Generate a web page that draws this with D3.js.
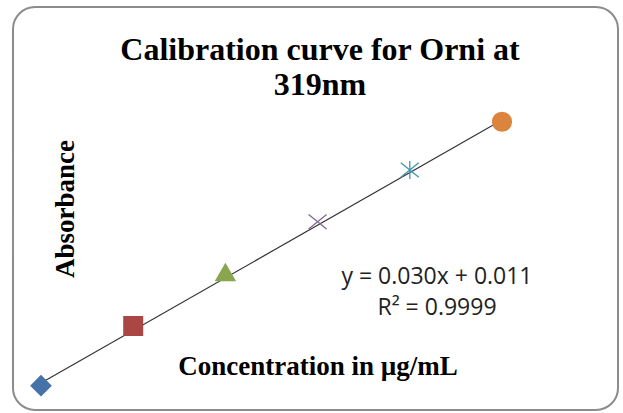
<!DOCTYPE html>
<html>
<head>
<meta charset="utf-8">
<script src="https://cdn.jsdelivr.net/npm/d3@7"></script>
<style>
  body { margin: 0; background: #fff; }
  svg { display: block; }
</style>
</head>
<body>
<div id="chart"></div>
<script>
// data
const concentrations = [2, 4, 6, 8, 10, 12];
const absorbance = [0.068, 0.136, 0.194, 0.255, 0.314, 0.369];
const markers = ['diamond', 'square', 'triangle', 'cross', 'star', 'circle'];
const colors = ['#4572A7', '#AA4643', '#89A54E', '#80699B', '#3D96AE', '#DB843D'];
const slope = 0.030, intercept = 0.011;

const width = 623, height = 413;

const svg = d3.select('#chart')
    .append('svg')
        .attr('width', width)
        .attr('height', height);

// outer frame
svg.append('rect')
    .attr('x', 13).attr('y', 7)
    .attr('width', 605).attr('height', 403)
    .attr('rx', 22).attr('ry', 22)
    .attr('fill', '#fff')
    .attr('stroke', '#8c8c8c')
    .attr('stroke-width', 2);

const x = d3.scaleLinear().domain([2, 12]).range([41, 502]);
const y = d3.scaleLinear().domain([0.071, 0.371]).range([383, 120]);

// trendline
const xs = d3.extent(concentrations);
svg.append('line')
    .attr('x1', x(xs[0])).attr('y1', y(slope * xs[0] + intercept))
    .attr('x2', x(xs[1])).attr('y2', y(slope * xs[1] + intercept))
    .attr('stroke', '#333')
    .attr('stroke-width', 1.2);

const points = concentrations.map((c, i) => ({c: c, a: absorbance[i], m: markers[i], col: colors[i]}));

const sym = {
    diamond: d3.symbol().type(d3.symbolDiamond2).size(300),
    square: d3.symbol().type(d3.symbolSquare).size(400),
    triangle: d3.symbol().type(d3.symbolTriangle).size(200),
    circle: d3.symbol().type(d3.symbolCircle).size(320)
};

const g = svg.append('g');
points.forEach(d => {
    const t = `translate(${x(d.c)},${y(d.a)})`;
    if (d.m === 'cross' || d.m === 'star') {
        const r = 9;
        const p = d3.path();
        p.moveTo(-r, -r * 0.8); p.lineTo(r, r * 0.8);
        p.moveTo(-r, r * 0.8); p.lineTo(r, -r * 0.8);
        if (d.m === 'star') { p.moveTo(0, -r); p.lineTo(0, r); }
        g.append('path')
            .attr('transform', t)
            .attr('d', p.toString())
            .attr('fill', 'none')
            .attr('stroke', d.col)
            .attr('stroke-width', 1.3);
    } else {
        g.append('path')
            .attr('transform', t)
            .attr('d', sym[d.m]())
            .attr('fill', d.col);
    }
});

// titles
const serif = '"Liberation Serif", "Times New Roman", serif';
const title = svg.append('text')
    .attr('text-anchor', 'middle')
    .style('font-family', serif)
    .style('font-weight', 'bold')
    .style('font-size', '32px')
    .attr('fill', '#000');
title.append('tspan').attr('x', 320).attr('y', 60).text('Calibration curve for Orni at');
title.append('tspan').attr('x', 320).attr('y', 95).text('319nm');

svg.append('text')
    .attr('transform', 'translate(74,209) rotate(-90)')
    .attr('text-anchor', 'middle')
    .style('font-family', serif)
    .style('font-weight', 'bold')
    .style('font-size', '27px')
    .text('Absorbance');

svg.append('text')
    .attr('x', 318).attr('y', 375)
    .attr('text-anchor', 'middle')
    .style('font-family', serif)
    .style('font-weight', 'bold')
    .style('font-size', '27px')
    .text('Concentration in µg/mL');

// regression equation
const eq = svg.append('text')
    .attr('text-anchor', 'middle')
    .style('font-family', '"Open Sans", sans-serif')
    .style('font-size', '23px')
    .attr('fill', '#222');
eq.append('tspan').attr('x', 437).attr('y', 284).text(`y = ${slope.toFixed(3)}x + ${intercept.toFixed(3)}`);
eq.append('tspan').attr('x', 437).attr('y', 315).text('R² = 0.9999');
</script>
</body>
</html>
